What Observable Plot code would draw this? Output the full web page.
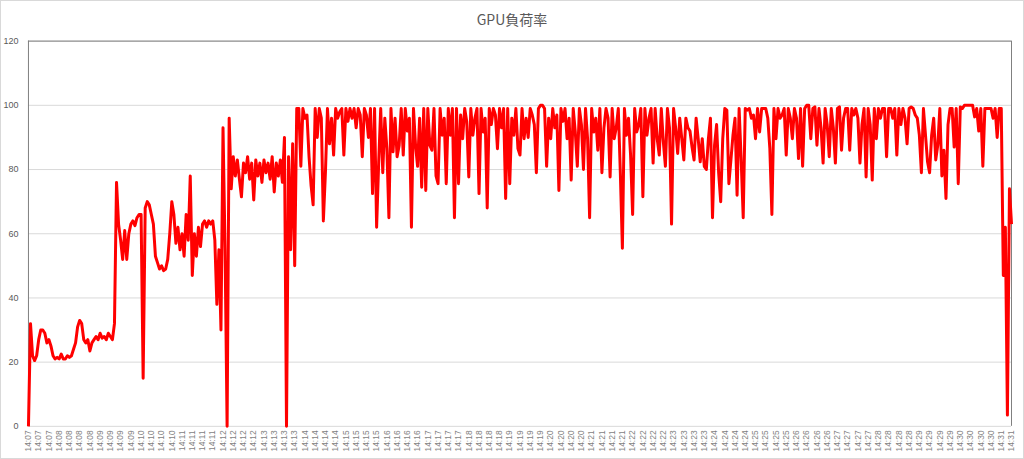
<!DOCTYPE html>
<html><head><meta charset="utf-8">
<script src="https://cdn.jsdelivr.net/npm/d3@7"></script>
<script src="https://cdn.jsdelivr.net/npm/@observablehq/plot@0.6"></script>
<style>
html,body{margin:0;padding:0;background:#fff;}
#chart{position:relative;width:1024px;height:459px;box-sizing:border-box;border:1px solid #d9d9d9;overflow:hidden;background:#fff;}
#title{position:absolute;top:8px;left:0;width:100%;text-align:center;font:14px "Noto Sans CJK JP",sans-serif;color:#595959;z-index:2;}
#chart svg{position:absolute;left:-1px;top:-1px;}
</style></head><body>
<div id="chart"><div id="title">GPU負荷率</div></div>
<script>
const tickLabels = [
"14:07","14:07","14:07",
"14:08","14:08","14:08","14:08","14:09","14:09","14:09","14:09",
"14:10","14:10","14:10","14:10","14:11","14:11","14:11","14:11",
"14:12","14:12","14:12","14:12","14:13","14:13","14:13","14:13",
"14:14","14:14","14:14","14:14","14:15","14:15","14:15","14:15",
"14:16","14:16","14:16","14:16","14:17","14:17","14:17","14:17",
"14:18","14:18","14:18","14:18","14:19","14:19","14:19","14:19",
"14:20","14:20","14:20","14:20","14:21","14:21","14:21","14:21",
"14:22","14:22","14:22","14:22","14:23","14:23","14:23","14:23",
"14:24","14:24","14:24","14:24","14:25","14:25","14:25","14:25",
"14:26","14:26","14:26","14:26","14:27","14:27","14:27","14:27",
"14:28","14:28","14:28","14:28","14:29","14:29","14:29","14:29",
"14:30","14:30","14:30","14:30",
"14:31","14:31"
];
const gpuLoad = [
0,32,22,20.5,22,27,30,30,29,26,
27,25,22,21,21.5,21,22.5,21,21,22,
21.5,22,24,26,31,33,32,27,26,27,
23.5,26,27,28,27,29,27.5,28,27,29,
28,27,32,76,63,58,52,61,52,60,
63,64,62.5,65,66,66,15,68,70,69,
66,63,53,51,49,50,48.5,49,52,60,
70,66,57,62,55,60,53,66,58,78,
47,60,53,62,56,63,64,62,64,63,
64,58,38,55,30,93,55,0,96,74,
84,78,83,77,71.5,82,79,84,77,82,
70.5,83,78,82,76,83,79,82,77,84,
73,82,78,83,76,90,0,84,55,88,
50,99,99,81,99,96,97,84,75,69,
99,90,99,96,64,79,99,88,96,84.5,
99,96,98,99,84.5,99,95,99,96,99,
93,99,97,84,99,97,90,99,72.5,99,
62,82,99,79,96,86.5,65,99,85.5,96,
84,87.5,99,84.5,99,92,96,62,99,87.5,
81,96,74.5,99,73.5,99,87.5,86,99,78,
75.6,99,90.7,96,75.6,99,90.7,99,65,99,
75.6,97,89.6,99,95,77.7,99,90.7,96,99,
72.5,99,91.7,96,68,99,94,99,97,86.5,
99,93,99,71,99,75.6,96,90.7,99,86.5,
84.5,99,89.6,96,90,99,97,94,79,99,
100,100,99,81,96,89.6,99,93,97,73.5,
99,95,99,89.6,96,76.7,99,91.7,81,99,
94,80,99,89.6,65,99,91.7,96,86,99,
79,93,99,96,77.7,99,89.6,93,99,79,
55.5,99,90.7,96,84.5,66,99,91.7,94,99,
71.5,99,90.7,96,99,82,99,89.6,84.5,99,
88.6,81,99,93,63,99,93,85,96,89.6,
83,96,93,92,87,83,96,89.6,82.4,89.6,
81,80,89.6,96,65,87.6,94,79,70,89.6,
99,98.5,75.6,83,90.7,96,72,99,83,65,
99,98.5,99,96,97,89.6,99,91.7,99,99,
99,96,86.5,66,99,89.6,99,96,97,99,
84.5,99,96,89.6,99,96,83.4,99,81,99,
100,100,89.6,99,99.5,87.6,99,93,82,99,
94,84,99,93,82,99,99.5,86,96,99,
99,86,99,97,99,96,82,94,99,77.7,
99,94,76.7,99,89.6,99,96,99,99,84,
99,99,96,99,84.5,99,94,99,96,88,
99,99.5,99,97,96,90.7,79,99,90.7,82.4,
79,90.7,96,83,87.6,99,78,86,71,94,
99,99,87,99,75.6,99.5,99,100,100,100,
100,100,96.4,99,92,99,81,99,99,99,
99,96,99,90,99,99,47,62,3.5,74,
63
];
const yTicks = [0,20,40,60,80,100,120];

const data = gpuLoad.map((v, i) => ({i, v}));
const last = gpuLoad.length - 1;
const step = last / (tickLabels.length - 1);
const xTicks = tickLabels.map((d, k) => k * step);

const plot = Plot.plot({
  width: 1024,
  height: 459,
  marginTop: 40.7,
  marginBottom: 32.3,
  marginLeft: 28,
  marginRight: 11,
  style: {background: "transparent", fontFamily: "'Liberation Sans', Arial, sans-serif"},
  x: {domain: [0, last], label: null},
  y: {domain: [0, 120], label: null},
  marks: [
    Plot.gridY(yTicks, {stroke: "#d9d9d9", strokeOpacity: 1}),
    Plot.ruleY([120], {stroke: "#7f7f7f"}),
    Plot.ruleX([0, last], {stroke: "#7f7f7f"}),
    Plot.line(data, {x: "i", y: "v", stroke: "#ff0000", strokeWidth: 3, strokeLinejoin: "round", strokeLinecap: "butt"}),
    Plot.axisY(yTicks, {tickSize: 0, tickPadding: 10, fontSize: 9, fill: "#595959", label: null}),
    Plot.axisX(xTicks, {tickSize: 0, tickPadding: 4, tickRotate: -90, fontSize: 8.5, fill: "#7f7f7f", label: null,
      tickFormat: t => tickLabels[Math.round(t / step)]})
  ]
});
document.getElementById("chart").appendChild(plot);
</script>
</body></html>
